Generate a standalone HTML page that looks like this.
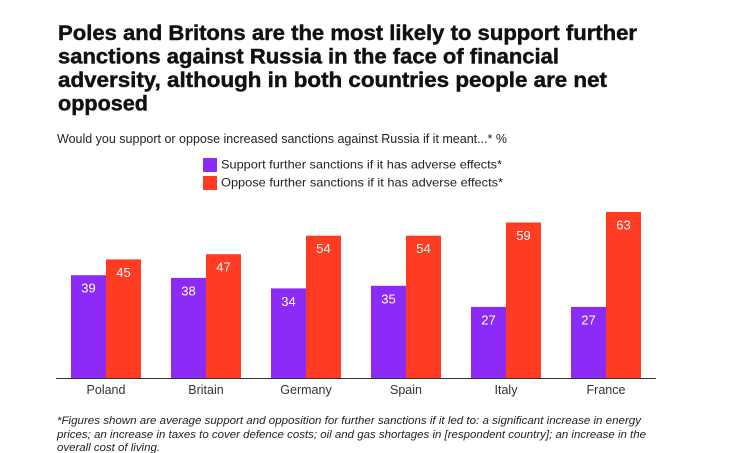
<!DOCTYPE html>
<html>
<head>
<meta charset="utf-8">
<style>
  html, body { margin:0; padding:0; background:#fff; }
  svg { display:block; }
  text { font-family: "Liberation Sans", "DejaVu Sans", sans-serif; }
</style>
</head>
<body>
<svg width="729" height="453" viewBox="0 0 729 453" xmlns="http://www.w3.org/2000/svg">
  <rect width="729" height="453" fill="#fff"/>
  <!-- Title -->
  <g font-weight="bold" font-size="21" fill="#111" stroke="#111" stroke-width="0.45">
    <text x="58" y="40" textLength="579" lengthAdjust="spacingAndGlyphs">Poles and Britons are the most likely to support further</text>
    <text x="58" y="63.5" textLength="501" lengthAdjust="spacingAndGlyphs">sanctions against Russia in the face of financial</text>
    <text x="58" y="87" textLength="549" lengthAdjust="spacingAndGlyphs">adversity, although in both countries people are net</text>
    <text x="58" y="110.5" textLength="90" lengthAdjust="spacingAndGlyphs">opposed</text>
  </g>
  <!-- Subtitle -->
  <text x="57" y="143" font-size="12.5" fill="#222" textLength="450" lengthAdjust="spacingAndGlyphs">Would you support or oppose increased sanctions against Russia if it meant...* %</text>
  <!-- Legend -->
  <rect x="203" y="158" width="14" height="14" fill="#8C2BF7"/>
  <rect x="203" y="176" width="14" height="14" fill="#FF3B22"/>
  <text x="221" y="168.5" font-size="12" fill="#222" textLength="281" lengthAdjust="spacingAndGlyphs">Support further sanctions if it has adverse effects*</text>
  <text x="221" y="186.5" font-size="12" fill="#222" textLength="282" lengthAdjust="spacingAndGlyphs">Oppose further sanctions if it has adverse effects*</text>

  <!-- Bars -->
  <g>
    <rect x="71" y="275.2" width="35" height="102.8" fill="#8C2BF7"/>
    <rect x="106" y="259.4" width="35" height="118.6" fill="#FF3B22"/>
    <rect x="171" y="277.9" width="35" height="100.1" fill="#8C2BF7"/>
    <rect x="206" y="254.2" width="35" height="123.8" fill="#FF3B22"/>
    <rect x="271" y="288.4" width="35" height="89.6" fill="#8C2BF7"/>
    <rect x="306" y="235.7" width="35" height="142.3" fill="#FF3B22"/>
    <rect x="371" y="285.8" width="35" height="92.2" fill="#8C2BF7"/>
    <rect x="406" y="235.7" width="35" height="142.3" fill="#FF3B22"/>
    <rect x="471" y="306.9" width="35" height="71.1" fill="#8C2BF7"/>
    <rect x="506" y="222.5" width="35" height="155.5" fill="#FF3B22"/>
    <rect x="571" y="306.9" width="35" height="71.1" fill="#8C2BF7"/>
    <rect x="606" y="212" width="35" height="166" fill="#FF3B22"/>
  </g>

  <!-- Value labels -->
  <g font-size="13" fill="#fff" text-anchor="middle">
    <text x="88.5" y="292.7">39</text>
    <text x="123.5" y="276.9">45</text>
    <text x="188.5" y="295.4">38</text>
    <text x="223.5" y="271.7">47</text>
    <text x="288.5" y="305.9">34</text>
    <text x="323.5" y="253.2">54</text>
    <text x="388.5" y="303.3">35</text>
    <text x="423.5" y="253.2">54</text>
    <text x="488.5" y="324.4">27</text>
    <text x="523.5" y="240">59</text>
    <text x="588.5" y="324.4">27</text>
    <text x="623.5" y="229.5">63</text>
  </g>

  <!-- Axis -->
  <line x1="56" y1="378.5" x2="656" y2="378.5" stroke="#333" stroke-width="1"/>

  <!-- Category labels -->
  <g font-size="12.5" fill="#333" text-anchor="middle">
    <text x="106" y="394">Poland</text>
    <text x="206" y="394">Britain</text>
    <text x="306" y="394">Germany</text>
    <text x="406" y="394">Spain</text>
    <text x="506" y="394">Italy</text>
    <text x="606" y="394">France</text>
  </g>

  <!-- Footnote -->
  <g font-size="11" font-style="italic" fill="#222">
    <text x="57" y="424" textLength="584" lengthAdjust="spacingAndGlyphs">*Figures shown are average support and opposition for further sanctions if it led to: a significant increase in energy</text>
    <text x="57" y="438" textLength="589" lengthAdjust="spacingAndGlyphs">prices; an increase in taxes to cover defence costs; oil and gas shortages in [respondent country]; an increase in the</text>
    <text x="57" y="451" textLength="103" lengthAdjust="spacingAndGlyphs">overall cost of living.</text>
  </g>
</svg>
</body>
</html>
